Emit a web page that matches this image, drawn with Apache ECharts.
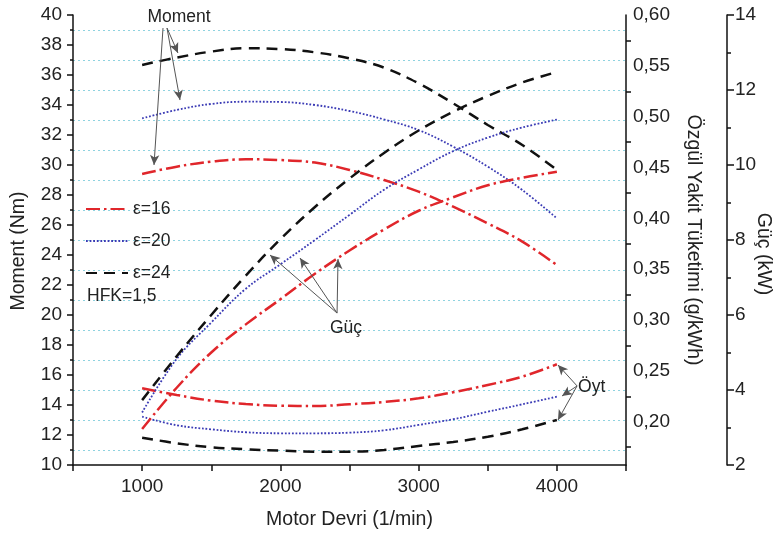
<!DOCTYPE html>
<html>
<head>
<meta charset="utf-8">
<script src="https://cdn.jsdelivr.net/npm/echarts@6/dist/echarts.min.js"></script>
<style>html,body{margin:0;padding:0;background:#fff}#c{width:774px;height:536px}</style>
</head>
<body>
<div id="c"></div>
<script>
// ---- data ----
const rpm = [1000, 1250, 1500, 1750, 2000, 2250, 2500, 2750, 3000, 3250, 3500, 3750, 4000];
const legendNames = ['ε=16', 'ε=20', 'ε=24'];
// Moment (Nm) – left axis
const momentE16 = [29.4, 29.89, 30.22, 30.38, 30.33, 30.16, 29.67, 29.0, 28.22, 27.22, 26.11, 24.89, 23.33];
const momentE20 = [33.11, 33.67, 34.07, 34.22, 34.2, 34.0, 33.6, 33.04, 32.33, 31.22, 29.89, 28.33, 26.44];
const momentE24 = [36.67, 37.16, 37.56, 37.78, 37.73, 37.51, 37.11, 36.49, 35.44, 34.11, 32.67, 31.33, 29.67];
// Özgül yakıt tüketimi (g/kWh) – first right axis
const oytE16 = [0.2329, 0.2263, 0.2207, 0.2174, 0.2157, 0.2154, 0.2171, 0.2194, 0.2230, 0.2289, 0.2361, 0.2443, 0.2565];
const oytE20 = [0.2049, 0.1965, 0.1925, 0.1896, 0.1886, 0.1886, 0.1892, 0.1915, 0.1968, 0.2024, 0.2098, 0.2171, 0.2246];
const oytE24 = [0.1843, 0.1788, 0.1748, 0.1729, 0.1715, 0.1705, 0.1705, 0.1722, 0.1761, 0.1800, 0.1852, 0.1925, 0.2017];
// Güç (kW) – second right axis
const gucE16 = [2.96, 4.06, 5.0, 5.75, 6.42, 7.1, 7.72, 8.28, 8.78, 9.14, 9.46, 9.66, 9.82];
const gucE20 = [3.4, 4.83, 5.8, 6.7, 7.35, 8.0, 8.67, 9.34, 9.88, 10.37, 10.73, 11.0, 11.21];
const gucE24 = [3.73, 4.9, 6.0, 7.05, 8.02, 8.88, 9.64, 10.32, 10.92, 11.42, 11.84, 12.2, 12.48];
// axis names / notes
const xName = 'Motor Devri (1/min)';
const yLeftName = 'Moment (Nm)';
const yOytName = 'Özgül Yakit Tüketimi (g/kWh)';
const yGucName = 'Güç (kW)';
const noteText = 'HFK=1,5';
// annotation arrows (in Motor Devri / Moment coordinates)
const momentArrows = [[[1151, 39.13], [1086, 30.0]], [[1180, 39.13], [1259, 37.47]], [[1180, 39.13], [1274, 34.33]]];
const gucArrows = [[[2410, 20.13], [1925, 24.0]], [[2410, 20.13], [2142, 23.8]], [[2410, 20.13], [2417, 23.73]]];
const oytArrows = [[[4146, 15.27], [4008, 16.67]], [[4146, 15.27], [4037, 14.6]], [[4146, 15.27], [4008, 13.0]]];
const annoTexts = [
  {text: 'Moment', at: [1267, 39.87], align: 'center'},
  {text: 'Güç', at: [2475, 19.13], align: 'center'},
  {text: 'Öyt', at: [4153, 15.2], align: 'left'}
];

const FONT = '"Liberation Sans", Arial, sans-serif';
const TXT = '#222';
const styles = {
  'ε=16': {color: '#e0262b', width: 2.5, type: [14, 4, 2.5, 4]},
  'ε=20': {color: '#3b3bb5', width: 1.8, type: [1.8, 1.8]},
  'ε=24': {color: '#111111', width: 2.5, type: [11, 7]}
};
const pairs = a => rpm.map((x, i) => [x, a[i]]);

function mkSeries(name, data, yIdx, extra) {
  const st = styles[name];
  return Object.assign({
    name: name, type: 'line', yAxisIndex: yIdx, data: pairs(data),
    smooth: 0.4, symbol: 'none', silent: true, z: 3,
    lineStyle: {color: st.color, width: st.width, type: st.type},
    itemStyle: {color: st.color}
  }, extra || {});
}

const arrowLine = arr => arr.map(p => [{coord: p[0]}, {coord: p[1]}]);

const series = [
  mkSeries('ε=16', momentE16, 0, {
    markLine: {
      silent: true, symbol: ['none', 'arrow'], symbolSize: [7, 10], animation: false,
      lineStyle: {color: '#555', width: 1, type: 'solid'}, label: {show: false},
      emphasis: {disabled: true},
      data: arrowLine(momentArrows).concat(arrowLine(gucArrows)).concat(arrowLine(oytArrows))
    }
  }),
  mkSeries('ε=20', momentE20, 0),
  mkSeries('ε=24', momentE24, 0),
  mkSeries('ε=16', oytE16, 1),
  mkSeries('ε=20', oytE20, 1),
  mkSeries('ε=24', oytE24, 1),
  mkSeries('ε=16', gucE16, 2),
  mkSeries('ε=20', gucE20, 2),
  mkSeries('ε=24', gucE24, 2)
];

const axisLineStyle = {color: '#111', width: 1.5};
const chart = echarts.init(document.getElementById('c'), null, {renderer: 'canvas'});
const option = {
  animation: false,
  backgroundColor: '#fff',
  textStyle: {fontFamily: FONT},
  grid: {left: 73, right: 148, top: 15, bottom: 71, containLabel: false, outerBoundsMode: 'none'},
  legend: {
    orient: 'vertical', left: 85, top: 200, padding: 0, itemWidth: 42, itemHeight: 12, itemGap: 14,
    selectedMode: false, data: legendNames,
    itemStyle: {color: 'rgba(0,0,0,0)', borderColor: 'rgba(0,0,0,0)', borderWidth: 0},
    textStyle: {fontSize: 17.5, color: TXT, fontFamily: FONT}
  },
  xAxis: {
    type: 'value', min: 500, max: 4500, interval: 500,
    name: xName, nameLocation: 'middle', nameGap: 45, nameMoveOverlap: false,
    nameTextStyle: {fontSize: 19.5, color: TXT, fontFamily: FONT},
    axisLine: {lineStyle: axisLineStyle},
    axisTick: {show: true, length: 6, lineStyle: axisLineStyle},
    axisLabel: {fontSize: 19, color: TXT, margin: 12, fontFamily: FONT,
      formatter: v => (v % 1000 === 0 ? String(v) : '')},
    splitLine: {show: false}
  },
  yAxis: [
    {
      type: 'value', position: 'left', min: 10, max: 40, interval: 2,
      name: yLeftName, nameLocation: 'middle', nameGap: 44, nameMoveOverlap: false,
      nameTextStyle: {fontSize: 19.5, color: TXT, fontFamily: FONT, padding: [0, 22, 0, 0]},
      axisLine: {show: true, lineStyle: axisLineStyle},
      axisTick: {show: true, length: 6, lineStyle: axisLineStyle},
      minorTick: {show: true, splitNumber: 2, length: 3, lineStyle: axisLineStyle},
      axisLabel: {fontSize: 19, color: TXT, margin: 11, fontFamily: FONT},
      splitLine: {show: false},
      minorSplitLine: {show: true, lineStyle: {color: '#8fd3e0', width: 1.2, type: [2, 3]}}
    },
    {
      type: 'value', position: 'right', min: 0.1574, max: 0.60, splitNumber: 9,
      name: yOytName, nameLocation: 'middle', nameGap: 57, nameRotate: -90, nameMoveOverlap: false,
      nameTextStyle: {fontSize: 19.5, color: TXT, fontFamily: FONT},
      axisLine: {show: true, lineStyle: axisLineStyle},
      axisTick: {show: false},
      minorTick: {show: true, splitNumber: 2, length: 5, lineStyle: axisLineStyle},
      axisLabel: {fontSize: 19, color: TXT, margin: 7, fontFamily: FONT,
        formatter: v => (Math.abs(v * 20 - Math.round(v * 20)) < 1e-6 ? v.toFixed(2).replace('.', ',') : '')},
      splitLine: {show: false}
    },
    {
      type: 'value', position: 'right', offset: 101, min: 2, max: 14, interval: 2,
      name: yGucName, nameLocation: 'middle', nameGap: 26, nameRotate: -90, nameMoveOverlap: false,
      nameTextStyle: {fontSize: 19.5, color: TXT, fontFamily: FONT, padding: [0, 0, 0, 28]},
      axisLine: {show: true, lineStyle: axisLineStyle},
      axisTick: {show: true, length: 7, lineStyle: axisLineStyle},
      minorTick: {show: true, splitNumber: 2, length: 4, lineStyle: axisLineStyle},
      axisLabel: {fontSize: 19, color: TXT, margin: 8, fontFamily: FONT},
      splitLine: {show: false}
    }
  ],
  series: series
};
chart.setOption(option);

const graphics = annoTexts.map(a => {
  const p = chart.convertToPixel({xAxisIndex: 0, yAxisIndex: 0}, a.at);
  return {type: 'text', x: p[0], y: p[1], silent: true, z: 10,
    style: {text: a.text, fill: TXT, font: '17.5px ' + FONT, align: a.align, verticalAlign: 'middle'}};
});
graphics.push({type: 'text', left: 87, top: 287, silent: true, z: 10,
  style: {text: noteText, fill: TXT, font: '17.5px ' + FONT}});
chart.setOption({graphic: graphics});
</script>
</body>
</html>
